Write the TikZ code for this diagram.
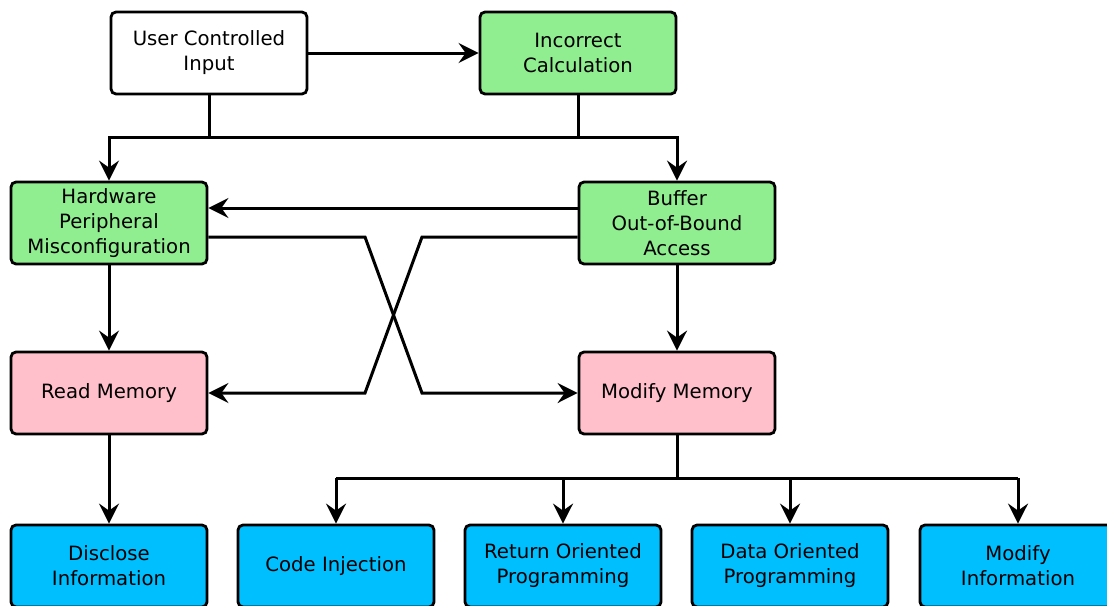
\documentclass[tikz,border=0pt]{standalone}
\usepackage{fontspec}
\setmainfont{DejaVu Sans}
\usetikzlibrary{arrows.meta}
\definecolor{grn}{HTML}{90EE90}
\definecolor{pnk}{HTML}{FFC0CB}
\definecolor{blu}{HTML}{00BFFF}

\begin{document}
\begin{tikzpicture}[x=1pt,y=-1pt,
					box/.style={draw,line width=2.8pt,rounded corners=5pt,minimum width=196pt,minimum height=82pt,inner sep=0pt,align=center,font=\fontsize{19.7}{25}\selectfont},
					wire/.style={line width=3pt},
					tip/.tip={Stealth[length=20pt,width=20pt,inset=7pt]},
					arr/.style={wire,-tip}]
					\useasboundingbox (0,0) rectangle (1107,605);
					\clip (0,0) rectangle (1107,605);
					% first two rows
					\node[box](uci) at (209,53){User Controlled\\Input};
					\node[box,fill=grn](ic) at (578,53){Incorrect\\Calculation};
					\node[box,fill=grn](hpm) at (109,223){Hardware\\Peripheral\\Misconfiguration};
					\node[box,fill=grn](bob) at (677,223){Buffer\\Out-of-Bound\\Access};
					\node[box,fill=pnk](rm) at (109,393){Read Memory};
					\node[box,fill=pnk](mm) at (677,393){Modify Memory};
					% outcomes
					\node[box,fill=blu](di) at (109,566){Disclose\\Information};
					\node[box,fill=blu](ci) at (336,566){Code Injection};
					\node[box,fill=blu](rop) at (563,566){Return Oriented\\Programming};
					\node[box,fill=blu](dop) at (790,566){Data Oriented\\Programming};
					\node[box,fill=blu](mi) at (1018,566){Modify\\Information};
					
					\coordinate (split) at (109,137);
					\coordinate (fan) at (677,478);
					\draw[arr] (uci) -- (ic);
					\draw[wire] (uci.south) -- (uci |- split);
					\draw[wire] (ic.south) -- (ic |- split);
					\draw[wire,tip-tip] (hpm.north) -- (split) -- (bob |- split) -- (bob.north);
					\draw[arr] ([yshift=15pt]bob.west) -- ([yshift=15pt]hpm.east);
					\draw[arr] ([yshift=-14pt]hpm.east) -- (365,237) -- (422,393) -- (mm.west);
					\draw[arr] ([yshift=-14pt]bob.west) -- (422,237) -- (365,393) -- (rm.east);
					\draw[arr] (hpm) -- (rm);
					\draw[arr] (bob) -- (mm);
					\draw[arr] (rm) -- (di);
					\draw[wire] (mm.south) -- (fan);
					\draw[wire] (ci |- fan) -- (mi |- fan);
					\foreach \n in {ci,rop,dop,mi}
						\draw[arr] (\n |- fan) -- (\n.north);
\end{tikzpicture}
\end{document}
